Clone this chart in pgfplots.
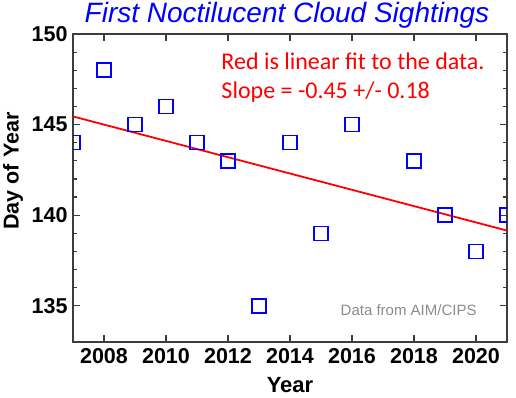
\documentclass[border=0pt]{standalone}
\usepackage{fontspec}
\setmainfont{Liberation Sans}
\newfontfamily\carlito{Carlito}
\usepackage{pgfplots}
\pgfplotsset{compat=1.18}
\definecolor{axgray}{RGB}{60,60,60}
\definecolor{notegray}{RGB}{140,140,140}
\begin{document}
\begin{tikzpicture}
\useasboundingbox (-73pt,-55pt) rectangle (443pt,342pt);
\begin{axis}[
  at={(0pt,0pt)}, anchor=south west,
  scale only axis, width=434pt, height=308pt,
  xmin=2007, xmax=2021, ymin=133, ymax=150,
  xtick={2008,2010,...,2020}, minor x tick num=3,
  ytick={135,140,145,150}, minor y tick num=4,
  x tick label style={/pgf/number format/1000 sep={}},
  /pgf/number format/assume math mode=true,
  tick label style={font=\fontsize{21.5}{23}\selectfont\bfseries},
  xticklabel style={yshift=-3pt},
  yticklabel style={xshift=-2pt},
  tick align=inside,
  major tick length=7pt, minor tick length=4pt,
  every tick/.style={axgray, line width=1.2pt},
  axis line style={axgray, line width=1.5pt},
  clip marker paths=true,
]
\addplot[red, line width=1.8pt] coordinates {(2007,145.45) (2021,139.15)};
\addplot[only marks, mark=square, mark size=7pt, blue, mark options={line width=1.5pt}] coordinates {
(2007,144) (2008,148) (2009,145) (2010,146) (2011,144) (2012,143) (2013,135)
(2014,144) (2015,139) (2016,145) (2018,143) (2019,140) (2020,138) (2021,140)};
\node[anchor=base west, red, font=\carlito\fontsize{24}{29}\selectfont] at (rel axis cs:0.334,1) [yshift=-35pt] {Red is linear fit to the data.};
\node[anchor=base west, red, font=\carlito\fontsize{24}{29}\selectfont] at (rel axis cs:0.334,1) [yshift=-64pt] {Slope = -0.45 +/- 0.18};
\node[anchor=base east, notegray, font=\fontsize{15}{17}\selectfont] at (rel axis cs:0.938,0) [yshift=27pt] {Data from AIM/CIPS};
\end{axis}
\node[anchor=base, blue, font=\fontsize{28}{32}\selectfont\itshape] at (214pt,319pt) {First Noctilucent Cloud Sightings};
\node[anchor=base, font=\fontsize{22}{24}\selectfont\bfseries] at (217pt,-50pt) {Year};
\node[rotate=90, font=\fontsize{21.5}{23}\selectfont\bfseries] at (-60pt,171pt) {Day of Year};
\end{tikzpicture}
\end{document}
